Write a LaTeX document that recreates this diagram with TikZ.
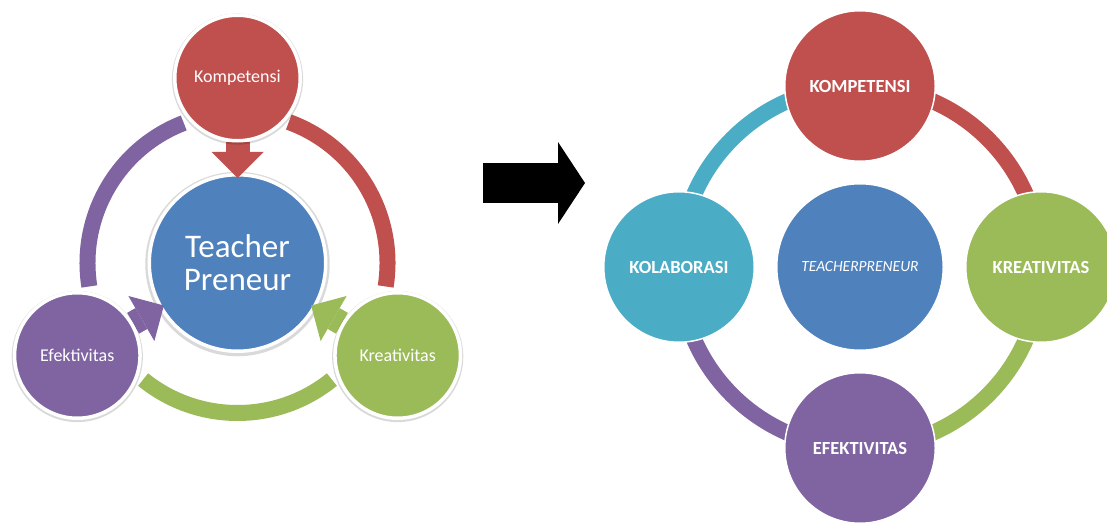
\documentclass[tikz,border=0pt]{standalone}
\usepackage{fontspec}
\setmainfont{Carlito}
\usetikzlibrary{arrows.meta,calc,shadows}
\definecolor{kred}{HTML}{C0504D}
\definecolor{kblue}{HTML}{4F81BD}
\definecolor{kgreen}{HTML}{9BBB59}
\definecolor{kpurple}{HTML}{8064A2}
\definecolor{kcyan}{HTML}{4BACC6}
\pgfdeclarelayer{back}
\pgfdeclarelayer{mid}
\pgfsetlayers{back,mid,main}
\tikzset{
  bub/.style={circle,inner sep=0pt,align=center,text=white},
  halo/.style={drop shadow={shadow xshift=0pt,shadow yshift=-1pt,shadow scale=1.045,opacity=.15,fill=black}},
  lbub/.style={bub,halo,draw=white,line width=3.5pt,minimum size=125.5pt,font=\fontsize{18}{20}\selectfont},
  lcore/.style={bub,halo,draw=white,line width=3.5pt,minimum size=176.5pt,font=\fontsize{33}{33}\selectfont},
  rbub/.style={bub,draw=white,line width=1.5pt,minimum size=150.5pt,font=\bfseries\fontsize{18.5}{20}\selectfont},
  rcore/.style={bub,draw=white,line width=1.5pt,minimum size=166.5pt,font=\itshape\fontsize{15.5}{18}\selectfont},
  ring/.style={line width=16pt},
  push/.style={line width=24pt,-{Triangle[length=26pt,width=52pt,line width=0pt]},shorten >=-5pt}
}
\begin{document}
\begin{tikzpicture}[x=1pt,y=1pt]
    \useasboundingbox (0,0) rectangle (1107,523);
    \coordinate (lc) at (237.5,260);
    \coordinate (rc) at (860,256);

    % left picture
    \begin{pgfonlayer}{back}
        \node[lcore,fill=kblue] (tp) at (lc) {Teacher\\Preneur};
    \end{pgfonlayer}
    \node[lbub,fill=kred] (komp) at ($(lc)+(90:185)$) {Kompetensi};
    \node[lbub,fill=kgreen] (kreat) at ($(lc)+(-30:185)$) {Kreativitas};
    \node[lbub,fill=kpurple] (efek) at ($(lc)+(210:185)$) {Efektivitas};
    \begin{pgfonlayer}{back}
        \draw[ring,kred] (lc) ++(70:150) arc[start angle=70,end angle=-9,radius=150];
        \draw[ring,kgreen] (lc) ++(-51:150) arc[start angle=-51,end angle=-129,radius=150];
        \draw[ring,kpurple] (lc) ++(189:150) arc[start angle=189,end angle=111,radius=150];
    \end{pgfonlayer}
    \begin{pgfonlayer}{mid}
        \draw[push,kred] (komp) -- (tp);
        \draw[push,kgreen] (kreat) -- (tp);
        \draw[push,kpurple] (efek) -- (tp);
    \end{pgfonlayer}

    % block arrow
    \coordinate (arrtail) at (483,340);
    \coordinate (arrtip) at (585,340);
    \draw[line width=40pt,-{Triangle[length=27pt,width=82pt,line width=0pt]}] (arrtail) -- (arrtip);

    % right picture
    \node[rcore,fill=kblue] (tpr) at (rc) {TEACHERPRENEUR};
    \node[rbub,fill=kred] (rkomp) at ($(rc)+(90:181)$) {KOMPETENSI};
    \node[rbub,fill=kgreen] (rkreat) at ($(rc)+(0:181)$) {KREATIVITAS};
    \node[rbub,fill=kpurple] (refek) at ($(rc)+(-90:181)$) {EFEKTIVITAS};
    \node[rbub,fill=kcyan] (rkola) at ($(rc)+(180:181)$) {KOLABORASI};
    \begin{pgfonlayer}{back}
        \draw[ring,kcyan] (rkola.center) arc[start angle=180,end angle=90,radius=181];
        \draw[ring,kred] (rkomp.center) arc[start angle=90,end angle=0,radius=181];
        \draw[ring,kgreen] (rkreat.center) arc[start angle=0,end angle=-90,radius=181];
        \draw[ring,kpurple] (refek.center) arc[start angle=-90,end angle=-180,radius=181];
    \end{pgfonlayer}
\end{tikzpicture}
\end{document}
